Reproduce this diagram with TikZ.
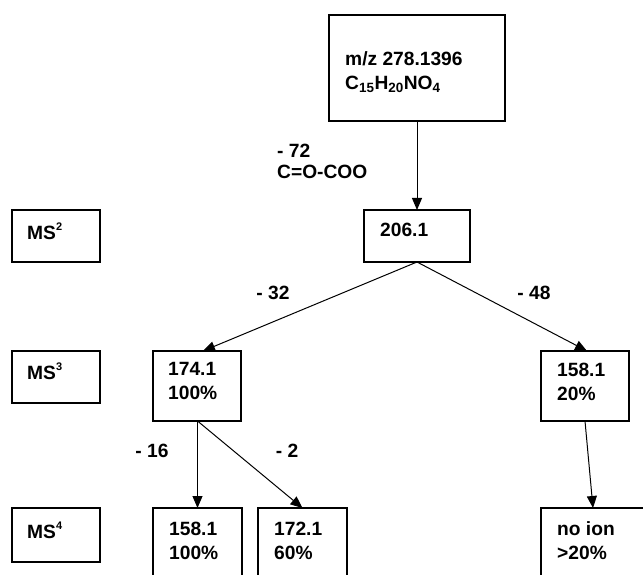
\documentclass[tikz,border=0pt]{standalone}
\usepackage{fontspec}
\setmainfont{Liberation Sans}
\usetikzlibrary{arrows.meta,calc}
\begin{document}
\begin{tikzpicture}[x=1pt,y=-1pt,
  box/.style={draw, line width=1.5pt, inner sep=0pt, outer sep=0pt, anchor=north west},
  txt/.style={anchor=north west, inner sep=0pt, align=left, font=\fontsize{19.2}{24}\selectfont\bfseries},
  arr/.style={-{Triangle[length=12pt,width=10pt]}, line width=1pt},
  lbl/.style={inner sep=0pt, align=left, font=\fontsize{19.2}{21}\selectfont\bfseries}]
\useasboundingbox (0,0) rectangle (643,575);
\clip (0,0) rectangle (643,575);
\newcommand{\msup}[1]{MS\raisebox{9pt}{\fontsize{11}{11}\selectfont #1}}

% boxes
\node[box, minimum width=176pt, minimum height=106pt] (top) at (329,15) {};
\node[box, minimum width=106pt, minimum height=52pt] (b206) at (364,210) {};
\node[box, minimum width=88pt, minimum height=52pt] (ms2) at (12,210) {};
\node[box, minimum width=88pt, minimum height=52pt] (ms3) at (12,351) {};
\node[box, minimum width=88pt, minimum height=70pt] (b174) at (153,351) {};
\node[box, minimum width=88pt, minimum height=70pt] (b158a) at (541,351) {};
\node[box, minimum width=88pt, minimum height=54pt] (ms4) at (12,508) {};
\node[box, minimum width=89pt, minimum height=90pt] (b158b) at (153,508) {};
\node[box, minimum width=89pt, minimum height=90pt] (b172) at (258,508) {};
\node[box, minimum width=120pt, minimum height=90pt] (bnoion) at (541,508) {};

% texts
\node[txt] (ttop) at ([shift={(16,36.5)}]top.north west) {m/z 278.1396\\C\textsubscript{15}H\textsubscript{20}NO\textsubscript{4}};
\node[txt] (t206) at ([shift={(16,12.5)}]b206.north west) {206.1};
\node[txt] (tms2) at ([shift={(15,12.5)}]ms2.north west) {\msup{2}};
\node[txt] (tms3) at ([shift={(15,11.5)}]ms3.north west) {\msup{3}};
\node[txt] (t174) at ([shift={(15,11.5)}]b174.north west) {174.1\\100\%};
\node[txt] (t158a) at ([shift={(16,11.5)}]b158a.north west) {158.1\\20\%};
\node[txt] (tms4) at ([shift={(15,13.5)}]ms4.north west) {\msup{4}};
\node[txt] (t158b) at ([shift={(16,13.5)}]b158b.north west) {158.1\\100\%};
\node[txt] (t172) at ([shift={(16,13.5)}]b172.north west) {172.1\\60\%};
\node[txt] (tnoion) at ([shift={(16,13.5)}]bnoion.north west) {no ion\\>20\%};

% arrows
\draw[arr] (top.south) -- (b206.north);
\draw[arr] (b206.south) -- ([xshift=6pt]b174.north);
\draw[arr] (b206.south) -- ([xshift=2pt]b158a.north);
\draw[arr] ([xshift=0.5pt]b174.south) -- (b158b.north);
\draw[arr] ([xshift=0.5pt]b174.south) -- (b172.north);
\draw[arr] (b158a.south) -- ([xshift=52pt]bnoion.north west);

% labels
\node[lbl, anchor=north west] (l72) at (277,144) {- 72\\C=O-COO};
\node[lbl] (l32) at (273,293) {- 32};
\node[lbl] (l48) at (534,293) {- 48};
\node[lbl] (l16) at (152,451) {- 16};
\node[lbl] (l2) at (287,451) {- 2};
\end{tikzpicture}
\end{document}
